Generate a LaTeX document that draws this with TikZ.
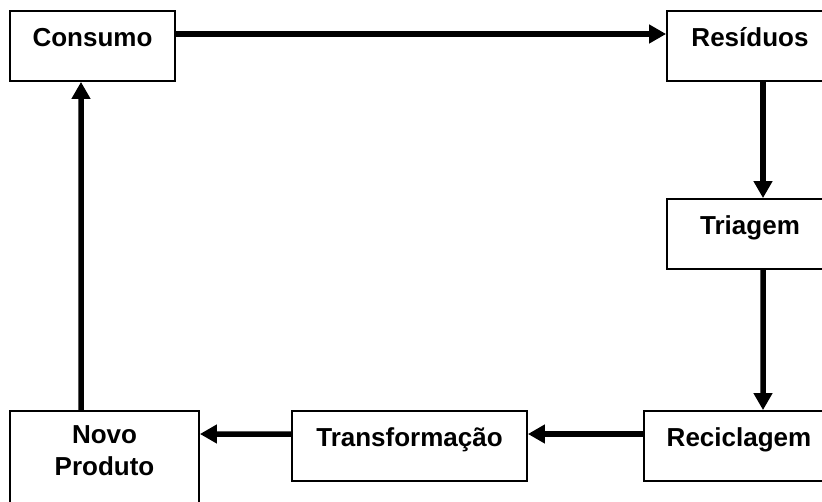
\documentclass[tikz,border=0pt]{standalone}
\usepackage{fontspec}
\setmainfont{Liberation Sans}
\usetikzlibrary{arrows.meta}
\begin{document}
\begin{tikzpicture}[x=1bp,y=-1bp,
  box/.style={draw, line width=1.8bp, inner sep=0pt, minimum height=70bp},
  lbl/.style={inner sep=0pt, font=\fontsize{26bp}{32bp}\selectfont\bfseries, align=center},
  arr/.style={line width=5.5bp, -{Triangle[length=17bp,width=18bp]}}]
\useasboundingbox (0,0) rectangle (822,502);
\fill[white] (0,0) rectangle (822,502);
\clip (0,0) rectangle (822,502);
% boxes
\node[box, minimum width=165bp] (consumo) at (92.5,46) {};
\node[box, minimum width=166bp] (residuos) at (750,46) {};
\node[box, minimum width=166bp] (triagem) at (750,234) {};
\node[box, minimum width=190bp] (reciclagem) at (739,446) {};
\node[box, minimum width=235bp] (transf) at (409.5,446) {};
\node[box, minimum width=189bp, minimum height=120bp] (novo) at (104.5,471) {};
% labels
\node[lbl, anchor=base] (tconsumo) at ([yshift=-36bp]consumo.north) {Consumo};
\node[lbl, anchor=base] (tresiduos) at ([yshift=-36bp]residuos.north) {Resíduos};
\node[lbl, anchor=base] (ttriagem) at ([yshift=-36bp]triagem.north) {Triagem};
\node[lbl, anchor=base] (treciclagem) at ([yshift=-36bp]reciclagem.north) {Reciclagem};
\node[lbl, anchor=base] (ttransf) at ([yshift=-36bp]transf.north) {Transformação};
\node[lbl, anchor=base] (tnovo) at ([yshift=-33bp]novo.north) {Novo};
\node[lbl, anchor=base] (tproduto) at ([yshift=-65bp]novo.north) {Produto};
% connectors
\draw[arr] ([yshift=12bp]consumo.east) -- ([yshift=12bp]residuos.west);
\draw[arr] ([xshift=13bp]residuos.south) -- ([xshift=13bp]triagem.north);
\draw[arr] ([xshift=13bp]triagem.south) -- ([xshift=24bp]reciclagem.north);
\draw[arr] ([yshift=12bp]reciclagem.west) -- ([yshift=12bp]transf.east);
\draw[arr] ([yshift=12bp]transf.west) -- ([yshift=37bp]novo.east);
\draw[arr] ([xshift=-23.5bp]novo.north) -- ([xshift=-11.5bp]consumo.south);
\end{tikzpicture}
\end{document}
